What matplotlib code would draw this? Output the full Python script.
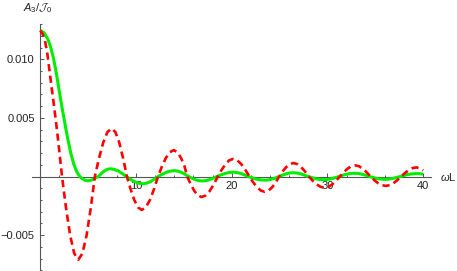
import matplotlib

matplotlib.use("Agg")
import matplotlib.pyplot as plt
import numpy as np

# curve samples (y in units of 1e-3)
red_x = [0, 0.25, 0.52, 0.75, 0.98, 1.2, 1.43, 1.65, 1.85, 2.05, 2.27,
         2.695, 3.12, 3.545, 3.97, 4.40, 4.835, 5.27, 5.70,
         6.14, 6.575, 7.01, 7.45, 7.85, 8.25, 8.65, 9.05,
         9.44, 9.825, 10.21, 10.6, 11.025, 11.45, 11.875, 12.3,
         12.71, 13.125, 13.54, 13.95, 14.325, 14.7, 15.075, 15.35,
         15.725, 16.1, 16.475, 16.85, 17.275, 17.7, 18.125, 18.55,
         18.95, 19.35, 19.75, 20.15, 20.575, 21.0, 21.425, 21.85,
         22.25, 22.65, 23.05, 23.45, 23.84, 24.225, 24.61, 24.95,
         25.325, 25.7, 26.075, 26.45, 26.85, 27.25, 27.65, 28.05,
         28.46, 28.875, 29.29, 29.7, 30.1, 30.5, 30.9, 31.3,
         31.7, 32.1, 32.5, 32.9, 33.3, 33.7, 34.1, 34.5,
         34.9, 35.3, 35.7, 36.1, 36.5, 36.9, 37.3, 37.7,
         38.1, 38.5, 38.9, 39.3, 39.7, 40.0]
red_y = [12.46, 12.15, 11.46, 10.4, 8.9, 7.5, 6.06, 4.6, 3.2, 1.7, 0,
         -2.72, -5.02, -6.56, -7.1, -6.56, -5.02, -2.72, 0,
         1.57, 2.90, 3.79, 4.1, 3.79, 2.90, 1.57, 0,
         -1.09, -2.01, -2.63, -2.85, -2.63, -2.01, -1.09, 0,
         0.86, 1.59, 2.08, 2.25, 2.08, 1.59, 0.86, 0,
         -0.67, -1.24, -1.62, -1.75, -1.62, -1.24, -0.67, 0,
         0.57, 1.06, 1.39, 1.5, 1.39, 1.06, 0.57, 0,
         -0.50, -0.92, -1.20, -1.3, -1.20, -0.92, -0.50, 0,
         0.44, 0.81, 1.06, 1.15, 1.06, 0.81, 0.44, 0,
         -0.36, -0.67, -0.88, -0.95, -0.88, -0.67, -0.36, 0,
         0.36, 0.67, 0.88, 0.95, 0.88, 0.67, 0.36, 0,
         -0.31, -0.57, -0.74, -0.8, -0.74, -0.57, -0.31, 0,
         0.30, 0.55, 0.72, 0.78, 0.68, 0.52]

green_x = [0, 0.4, 0.8, 1.1, 1.4, 1.7, 2.0, 2.3, 2.6, 2.9, 3.2, 3.5, 3.8,
           4.1, 4.4, 4.7, 5.0, 5.3, 5.6, 5.85, 6.06,
           6.37, 6.68, 6.99, 7.3, 7.725, 8.15, 8.575, 9.0,
           9.425, 9.85, 10.275, 10.7, 11.1, 11.5, 11.9, 12.3,
           12.725, 13.15, 13.575, 14.0, 14.375, 14.75, 15.125, 15.5,
           15.85, 16.2, 16.55, 16.9, 17.29, 17.675, 18.06, 18.45,
           18.875, 19.3, 19.725, 20.15, 20.55, 20.95, 21.35, 21.75,
           22.175, 22.6, 23.025, 23.45, 23.825, 24.2, 24.575, 24.95,
           25.31, 25.675, 26.04, 26.4, 26.8, 27.2, 27.6, 28.0,
           28.4, 28.8, 29.2, 29.6, 30.0, 30.4, 30.8, 31.2,
           31.6, 32.0, 32.4, 32.8, 33.2, 33.6, 34.0, 34.4,
           34.8, 35.2, 35.6, 36.0, 36.4, 36.8, 37.2, 37.6,
           38.025, 38.45, 38.875, 39.3, 39.65, 40.0]
green_y = [12.46, 12.27, 11.7, 11.0, 10.0, 8.7, 7.2, 5.75, 4.4, 3.1, 1.95, 1.05, 0.42,
           0.03, -0.2, -0.33, -0.36, -0.31, -0.2, -0.09, 0,
           0.25, 0.47, 0.61, 0.66, 0.61, 0.47, 0.25, 0,
           -0.24, -0.44, -0.57, -0.62, -0.57, -0.44, -0.24, 0,
           0.19, 0.35, 0.46, 0.5, 0.46, 0.35, 0.19, 0,
           -0.145, -0.27, -0.35, -0.38, -0.35, -0.27, -0.145, 0,
           0.14, 0.26, 0.34, 0.37, 0.34, 0.26, 0.14, 0,
           -0.12, -0.22, -0.29, -0.31, -0.29, -0.22, -0.12, 0,
           0.12, 0.23, 0.30, 0.32, 0.30, 0.23, 0.12, 0,
           -0.10, -0.19, -0.25, -0.27, -0.25, -0.19, -0.10, 0,
           0.11, 0.20, 0.26, 0.28, 0.26, 0.20, 0.11, 0,
           -0.09, -0.17, -0.22, -0.24, -0.22, -0.17, -0.09, 0,
           0.10, 0.18, 0.23, 0.25, 0.24, 0.21]

x_major = [10, 20, 30, 40]
x_minor = [2, 4, 6, 8, 12, 14, 16, 18, 22, 24, 26, 28, 32, 34, 36, 38]
y_major = [-0.005, 0.005, 0.010]
y_major_labels = ["\u22120.005", "0.005", "0.010"]
y_minor = [-0.008, -0.007, -0.006, -0.004, -0.003, -0.002, -0.001,
           0.001, 0.002, 0.003, 0.004, 0.006, 0.007, 0.008, 0.009,
           0.011, 0.012, 0.013]

plt.rcParams["font.family"] = ["Liberation Sans", "DejaVu Sans"]
plt.rcParams["mathtext.fontset"] = "custom"
plt.rcParams["mathtext.rm"] = "Liberation Sans"
plt.rcParams["mathtext.it"] = "Liberation Sans:italic"
plt.rcParams["mathtext.cal"] = "cmsy10"
plt.rcParams["lines.scale_dashes"] = False

axis_color = "#555555"
text_color = "#222222"

fig = plt.figure(figsize=(4.57, 2.71), dpi=100)
ax = fig.add_axes([0, 0, 1, 1])
ax.patch.set_alpha(0)

ax.plot(green_x, np.asarray(green_y) * 1e-3, color="#00ee00", lw=2.2,
        solid_capstyle="butt", zorder=3)
ax.plot(red_x, np.asarray(red_y) * 1e-3, color="#ff0000", lw=1.9,
        dashes=(5.2, 3.2), zorder=4)

ax.set_xlim(-4.21, 43.54)
ax.set_ylim(-8.06e-3, 15.06e-3)

for side in ("top", "right"):
    ax.spines[side].set_visible(False)
ax.spines["left"].set_position(("data", 0))
ax.spines["bottom"].set_position(("data", 0))
ax.spines["left"].set_bounds(-8.06e-3, 13.0e-3)
ax.spines["bottom"].set_bounds(-0.9, 40.8)
for side in ("left", "bottom"):
    ax.spines[side].set_color(axis_color)
    ax.spines[side].set_linewidth(0.8)

ax.set_xticks(x_major, labels=[str(v) for v in x_major])
ax.set_xticks(x_minor, minor=True)
ax.set_yticks(y_major, labels=y_major_labels)
ax.set_yticks(y_minor, minor=True)
ax.tick_params(which="both", direction="in", color=axis_color, width=0.7,
               labelsize=8, labelcolor=text_color)
ax.tick_params(which="major", length=3.0)
ax.tick_params(which="minor", length=1.6)
ax.tick_params(axis="y", which="major", pad=4)
ax.tick_params(axis="x", which="major", pad=3)

fig.text(38 / 457, 1 - 8.5 / 271, r"$A_3/\mathcal{J}_0$", ha="center",
         va="center", fontsize=8, color=text_color)
fig.text(440 / 457, 1 - 177.4 / 271, r"$\omega$L", ha="left", va="center",
         fontsize=8, color=text_color)

fig.savefig("out.png", dpi=100)
